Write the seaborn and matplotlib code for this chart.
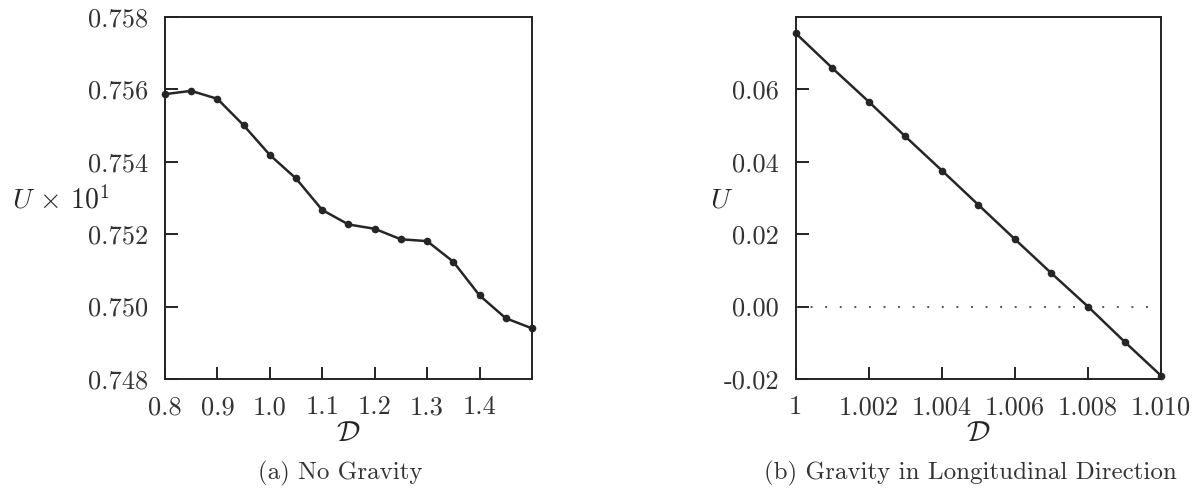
import matplotlib
matplotlib.use("Agg")
import matplotlib.pyplot as plt
import seaborn as sns
import pandas as pd

# (a) No gravity: speed (x10) against the dimensionless parameter D
d_no_gravity = [0.80, 0.85, 0.90, 0.95, 1.00, 1.05, 1.10, 1.15, 1.20, 1.25,
                1.30, 1.35, 1.40, 1.45, 1.50]
u_no_gravity = [0.75587, 0.75596, 0.75574, 0.75501, 0.75419, 0.75354, 0.75267,
                0.75227, 0.75215, 0.75186, 0.75181, 0.75124, 0.75031, 0.74968,
                0.74940]

# (b) Gravity in longitudinal direction
d_longitudinal = [1.000, 1.001, 1.002, 1.003, 1.004, 1.005, 1.006, 1.007,
                  1.008, 1.009, 1.010]
u_longitudinal = [0.0755, 0.0659, 0.0566, 0.0470, 0.0376, 0.0281, 0.0186,
                  0.0092, 0.0000, -0.0097, -0.0191]

xticks_a = [0.8, 0.9, 1.0, 1.1, 1.2, 1.3, 1.4]
xticklabels_a = ["0.8", "0.9", "1.0", "1.1", "1.2", "1.3", "1.4"]
yticks_a = [0.748, 0.750, 0.752, 0.754, 0.756, 0.758]
yticklabels_a = ["0.748", "0.750", "0.752", "0.754", "0.756", "0.758"]

xticks_b = [1.000, 1.002, 1.004, 1.006, 1.008, 1.010]
xticklabels_b = ["1", "1.002", "1.004", "1.006", "1.008", "1.010"]
yticks_b = [-0.02, 0.00, 0.02, 0.04, 0.06]
yticklabels_b = ["-0.02", "0.00", "0.02", "0.04", "0.06"]

sns.set_style("ticks")
plt.rcParams.update({
    "font.family": "serif",
    "font.serif": ["cmr10", "DejaVu Serif"],
    "mathtext.fontset": "cm",
    "axes.unicode_minus": False,
    "axes.linewidth": 1.4,
    "axes.edgecolor": "#222222",
    "xtick.direction": "in",
    "ytick.direction": "in",
    "xtick.major.size": 9,
    "ytick.major.size": 9,
    "xtick.major.width": 1.4,
    "ytick.major.width": 1.4,
    "xtick.color": "#222222",
    "ytick.color": "#222222",
    "text.color": "#333333",
})

LINE = "#262626"
FS = 19

fig = plt.figure(figsize=(11.97, 4.95), dpi=100)
ax_a = fig.add_axes([0.1378, 0.2343, 0.3066, 0.7313])
ax_b = fig.add_axes([0.6648, 0.2343, 0.3052, 0.7313])

df_a = pd.DataFrame({"D": d_no_gravity, "U": u_no_gravity})
df_b = pd.DataFrame({"D": d_longitudinal, "U": u_longitudinal})

sns.lineplot(data=df_a, x="D", y="U", ax=ax_a, color=LINE, linewidth=1.8,
             marker="o", markersize=5.5, markeredgewidth=0, clip_on=False)
sns.lineplot(data=df_b, x="D", y="U", ax=ax_b, color=LINE, linewidth=1.8,
             marker="o", markersize=5.5, markeredgewidth=0, clip_on=False)

# zero reference line
ax_b.axhline(0.0, color="#555555", linestyle=(0, (1, 6.5)), linewidth=1.4, zorder=1)

ax_a.set_xlim(0.8, 1.5)
ax_a.set_ylim(0.748, 0.758)
ax_a.set_xticks(xticks_a)
ax_a.set_xticklabels(xticklabels_a)
ax_a.set_yticks(yticks_a)
ax_a.set_yticklabels(yticklabels_a)

ax_b.set_xlim(1.000, 1.010)
ax_b.set_ylim(-0.02, 0.08)
ax_b.set_xticks(xticks_b)
ax_b.set_xticklabels(xticklabels_b)
ax_b.set_yticks(yticks_b)
ax_b.set_yticklabels(yticklabels_b)

for ax in (ax_a, ax_b):
    ax.tick_params(axis="both", labelsize=FS, pad=12, top=False, right=False,
                   labelcolor="#333333")
    for sp in ax.spines.values():
        sp.set_visible(True)
    ax.set_xlabel(r"$\mathcal{D}$", fontsize=FS + 2, va="top")
    ax.xaxis.set_label_coords(0.5, -0.115)

ax_a.set_ylabel(r"$U\,\times\,10^1$", fontsize=FS + 1, rotation=0,
                ha="right", va="center")
ax_a.yaxis.set_label_coords(-0.15, 0.494)
ax_b.set_ylabel(r"$U$", fontsize=FS + 1, rotation=0, ha="right", va="center")
ax_b.yaxis.set_label_coords(-0.172, 0.494)

fig.text(340 / 1197, 1 - 473 / 495, "(a) No Gravity", fontsize=FS - 1,
         ha="center", va="center")
fig.text(970 / 1197, 1 - 473 / 495, "(b) Gravity in Longitudinal Direction",
         fontsize=FS - 1, ha="center", va="center")

fig.savefig("out.png", dpi=100, facecolor="white")
